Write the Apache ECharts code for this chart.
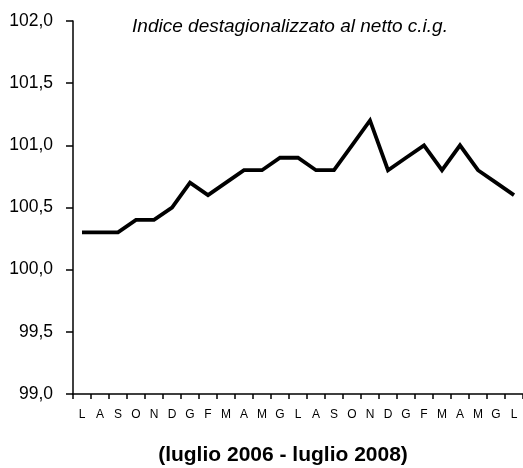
<!DOCTYPE html>
<html>
<head>
<meta charset="utf-8">
<script src="https://cdn.jsdelivr.net/npm/echarts@6/dist/echarts.min.js"></script>
<style>
  html, body { margin: 0; padding: 0; background: #fff; }
  #chart { width: 523px; height: 468px; }
</style>
</head>
<body>
<div id="chart"></div>
<script>
// mesi luglio 2006 - luglio 2008
var mesi = ['L','A','S','O','N','D','G','F','M','A','M','G','L','A','S','O','N','D','G','F','M','A','M','G','L'];
var indice = [100.3, 100.3, 100.3, 100.4, 100.4, 100.5, 100.7, 100.6, 100.7, 100.8, 100.8, 100.9, 100.9,
              100.8, 100.8, 101.0, 101.2, 100.8, 100.9, 101.0, 100.8, 101.0, 100.8, 100.7, 100.6];
var titolo = 'Occupazione nelle grandi imprese';
var sottotitolo = 'Indice destagionalizzato al netto c.i.g.';
var periodo = '(luglio 2006 - luglio 2008)';

var font = 'Liberation Sans, Arial';
var myChart = echarts.init(document.getElementById('chart'));
var option = {
  animation: false,
  backgroundColor: '#fff',
  grid: { left: 73, right: -4, top: 21, bottom: 74 },
  graphic: [
    {
      // titolo tagliato in alto, se ne vedono solo le code
      type: 'text', x: 292, y: -21,
      style: { text: titolo, fontSize: 20, fontWeight: 'bold', fontFamily: font, fill: '#000', align: 'center' }
    },
    {
      type: 'text', x: 290, y: 27,
      style: { text: sottotitolo, fontSize: 19, fontStyle: 'italic', fontFamily: font,
               fill: '#000', align: 'center', verticalAlign: 'middle' }
    },
    {
      type: 'text', x: 283, y: 455,
      style: { text: periodo, fontSize: 21, fontWeight: 'bold', fontFamily: font,
               fill: '#000', align: 'center', verticalAlign: 'middle' }
    }
  ],
  xAxis: {
    type: 'category',
    data: mesi,
    boundaryGap: true,
    axisLine: { lineStyle: { color: '#000', width: 1.5 } },
    axisTick: { show: true, length: 5, inside: false, lineStyle: { color: '#000', width: 1.5 } },
    axisLabel: { color: '#000', fontSize: 12, fontFamily: font, margin: 15, interval: 0 },
    splitLine: { show: false }
  },
  yAxis: {
    type: 'value',
    min: 99,
    max: 102,
    interval: 0.5,
    axisLine: { show: true, lineStyle: { color: '#000', width: 1.5 } },
    axisTick: { show: true, length: 7, lineStyle: { color: '#000', width: 1.5 } },
    axisLabel: {
      color: '#000', fontSize: 17.5, fontFamily: font, margin: 20,
      formatter: function (v) { return v.toFixed(1).replace('.', ','); }
    },
    splitLine: { show: false }
  },
  series: [{
    type: 'line',
    data: indice,
    showSymbol: false,
    symbol: 'none',
    lineStyle: { color: '#000', width: 3.8, join: 'miter' }
  }]
};
myChart.setOption(option);
</script>
</body>
</html>
